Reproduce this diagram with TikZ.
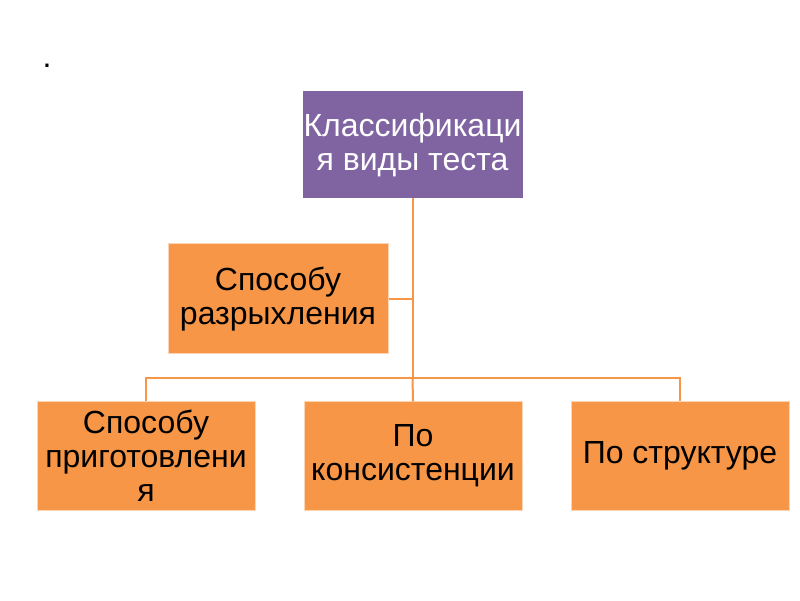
\documentclass[tikz,border=0pt]{standalone}
\usepackage{fontspec}
\setmainfont{Liberation Sans}
\usepackage{xcolor}
\definecolor{boxpurple}{HTML}{8064A2}
\definecolor{boxorange}{HTML}{F79646}

\begin{document}
\begin{tikzpicture}[x=1pt,y=1pt,
  kind/.style={fill=boxorange,draw=boxorange!40!white,line width=1pt,
    minimum width=218pt,minimum height=108pt,align=center,inner sep=0pt,
    font=\fontsize{32}{34}\selectfont},
  head/.style={kind,fill=boxpurple,draw=boxpurple,text=white,
    minimum width=219pt,minimum height=106pt},
  link/.style={draw=boxorange,line width=2pt}]
  \useasboundingbox (0,0) rectangle (800,600);
  \fill[white] (0,0) rectangle (800,600);
  \node[font=\fontsize{32}{34}\selectfont] (dot) at (47,534) {.};
  \node[head] (top) at (412.5,455) {Классификаци\\я виды теста};
  \node[kind,minimum width=220pt,minimum height=110pt] (loose) at (278,301) {Способу\\разрыхления};
  \node[kind] (cook) at (146,144) {Способу\\приготовлени\\я};
  \node[kind] (thick) at (413,144) {По\\консистенции};
  \node[kind] (struct) at (680,144) {По структуре};
  \coordinate (bus) at (412.5,222);
  \draw[link] (top.south) -- (bus);
  \draw[link] (loose.east) -- (loose.east -| top.south);
  \draw[link] (bus) -| (cook.north);
  \draw[link] (bus) -| (struct.north);
  \draw[link] (bus) -- (thick.north);
\end{tikzpicture}
\end{document}
